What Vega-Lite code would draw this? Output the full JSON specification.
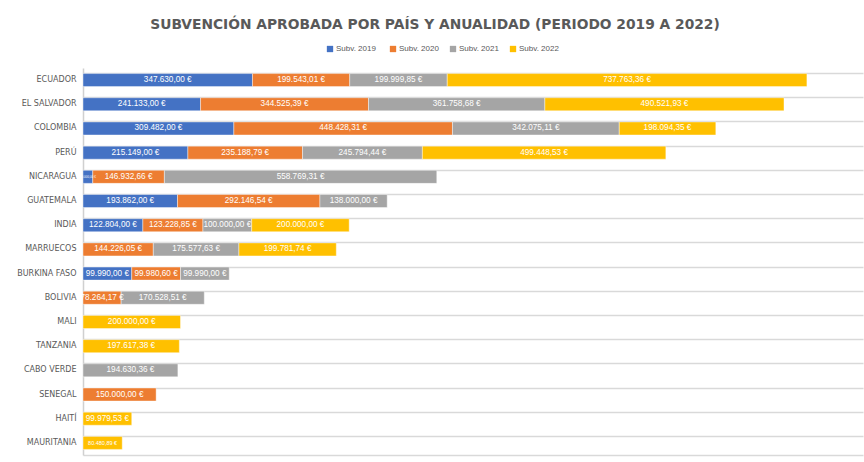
{
  "$schema": "https://vega.github.io/schema/vega-lite/v6.json",
  "width": 780,
  "height": 387,
  "autosize": "none",
  "padding": {"left": 83, "top": 68, "right": 1, "bottom": 7},
  "background": "white",
  "title": {
    "text": "SUBVENCIÓN APROBADA POR PAÍS Y ANUALIDAD (PERIODO 2019 A 2022)",
    "font": "DejaVu Sans",
    "fontSize": 13.8,
    "fontWeight": "bold",
    "color": "#595959",
    "anchor": "middle",
    "frame": "group",
    "dx": -38,
    "offset": 13
  },
  "config": {
    "locale": {
      "number": {"decimal": ",", "thousands": ".", "grouping": [3], "currency": ["", " €"]}
    },
    "view": {"stroke": null}
  },
  "data": {
    "values": [
      {"country": "ECUADOR", "year": "Subv.  2019", "value": 347630.00},
      {"country": "ECUADOR", "year": "Subv. 2020", "value": 199543.01},
      {"country": "ECUADOR", "year": "Subv. 2021", "value": 199999.85},
      {"country": "ECUADOR", "year": "Subv. 2022", "value": 737763.36},
      {"country": "EL SALVADOR", "year": "Subv.  2019", "value": 241133.00},
      {"country": "EL SALVADOR", "year": "Subv. 2020", "value": 344525.39},
      {"country": "EL SALVADOR", "year": "Subv. 2021", "value": 361758.68},
      {"country": "EL SALVADOR", "year": "Subv. 2022", "value": 490521.93},
      {"country": "COLOMBIA", "year": "Subv.  2019", "value": 309482.00},
      {"country": "COLOMBIA", "year": "Subv. 2020", "value": 448428.31},
      {"country": "COLOMBIA", "year": "Subv. 2021", "value": 342075.11},
      {"country": "COLOMBIA", "year": "Subv. 2022", "value": 198094.35},
      {"country": "PERÚ", "year": "Subv.  2019", "value": 215149.00},
      {"country": "PERÚ", "year": "Subv. 2020", "value": 235188.79},
      {"country": "PERÚ", "year": "Subv. 2021", "value": 245794.44},
      {"country": "PERÚ", "year": "Subv. 2022", "value": 499448.53},
      {"country": "NICARAGUA", "year": "Subv.  2019", "value": 20000.00},
      {"country": "NICARAGUA", "year": "Subv. 2020", "value": 146932.66},
      {"country": "NICARAGUA", "year": "Subv. 2021", "value": 558769.31},
      {"country": "GUATEMALA", "year": "Subv.  2019", "value": 193862.00},
      {"country": "GUATEMALA", "year": "Subv. 2020", "value": 292146.54},
      {"country": "GUATEMALA", "year": "Subv. 2021", "value": 138000.00},
      {"country": "INDIA", "year": "Subv.  2019", "value": 122804.00},
      {"country": "INDIA", "year": "Subv. 2020", "value": 123228.85},
      {"country": "INDIA", "year": "Subv. 2021", "value": 100000.00},
      {"country": "INDIA", "year": "Subv. 2022", "value": 200000.00},
      {"country": "MARRUECOS", "year": "Subv. 2020", "value": 144226.05},
      {"country": "MARRUECOS", "year": "Subv. 2021", "value": 175577.63},
      {"country": "MARRUECOS", "year": "Subv. 2022", "value": 199781.74},
      {"country": "BURKINA FASO", "year": "Subv.  2019", "value": 99990.00},
      {"country": "BURKINA FASO", "year": "Subv. 2020", "value": 99980.60},
      {"country": "BURKINA FASO", "year": "Subv. 2021", "value": 99990.00},
      {"country": "BOLIVIA", "year": "Subv. 2020", "value": 78264.17},
      {"country": "BOLIVIA", "year": "Subv. 2021", "value": 170528.51},
      {"country": "MALI", "year": "Subv. 2022", "value": 200000.00},
      {"country": "TANZANIA", "year": "Subv. 2022", "value": 197617.38},
      {"country": "CABO VERDE", "year": "Subv. 2021", "value": 194630.36},
      {"country": "SENEGAL", "year": "Subv. 2020", "value": 150000.00},
      {"country": "HAITÍ", "year": "Subv. 2022", "value": 99979.53},
      {"country": "MAURITANIA", "year": "Subv. 2022", "value": 80480.89}
    ]
  },
  "encoding": {
    "y": {
      "field": "country",
      "type": "nominal",
      "sort": ["ECUADOR", "EL SALVADOR", "COLOMBIA", "PERÚ", "NICARAGUA", "GUATEMALA", "INDIA", "MARRUECOS", "BURKINA FASO", "BOLIVIA", "MALI", "TANZANIA", "CABO VERDE", "SENEGAL", "HAITÍ", "MAURITANIA"],
      "scale": {"paddingInner": 0.46, "paddingOuter": 0.23},
      "axis": {
        "title": null,
        "bandPosition": 0,
        "grid": true,
        "gridColor": "#d9d9d9",
        "gridWidth": 1.5,
        "ticks": false,
        "domainColor": "#d0d0d0",
        "domainWidth": 1.5,
        "labelFont": "DejaVu Sans",
        "labelFontSize": 8,
        "labelColor": "#595959",
        "labelPadding": 7
      }
    }
  },
  "layer": [
    {
      "mark": {"type": "bar", "stroke": "white", "strokeWidth": 0.6, "strokeOpacity": 0.7},
      "encoding": {
        "x": {
          "field": "value",
          "type": "quantitative",
          "stack": "zero",
          "scale": {"domain": [0, 1600000], "nice": false},
          "axis": {
            "title": null,
            "labels": false,
            "ticks": false,
            "grid": false,
            "domain": true,
            "domainColor": "#d9d9d9",
            "domainWidth": 1.5
          }
        },
        "color": {
          "field": "year",
          "type": "nominal",
          "scale": {
            "domain": ["Subv.  2019", "Subv. 2020", "Subv. 2021", "Subv. 2022"],
            "range": ["#4472C4", "#ED7D31", "#A5A5A5", "#FFC000"]
          },
          "legend": {
            "title": null,
            "orient": "none",
            "direction": "horizontal",
            "legendX": 243,
            "legendY": -23,
            "symbolType": "square",
            "symbolSize": 40,
            "symbolStrokeWidth": 0,
            "labelFont": "Liberation Sans",
            "labelFontSize": 8,
            "labelColor": "#595959",
            "columnPadding": 10,
            "labelOffset": 2
          }
        },
        "order": {"field": "year", "type": "nominal"}
      }
    },
    {
      "mark": {"type": "text", "color": "white", "font": "Liberation Sans", "baseline": "middle", "align": "center"},
      "encoding": {
        "x": {"field": "value", "type": "quantitative", "stack": "zero", "bandPosition": 0.5},
        "detail": {"field": "year", "type": "nominal"},
        "order": {"field": "year", "type": "nominal"},
        "text": {"field": "value", "type": "quantitative", "format": "$,.2f"},
        "size": {
          "condition": [
            {"test": "datum.value < 30000", "value": 3},
            {"test": "datum.country === 'MAURITANIA'", "value": 5.5}
          ],
          "value": 8.2
        }
      }
    }
  ]
}
